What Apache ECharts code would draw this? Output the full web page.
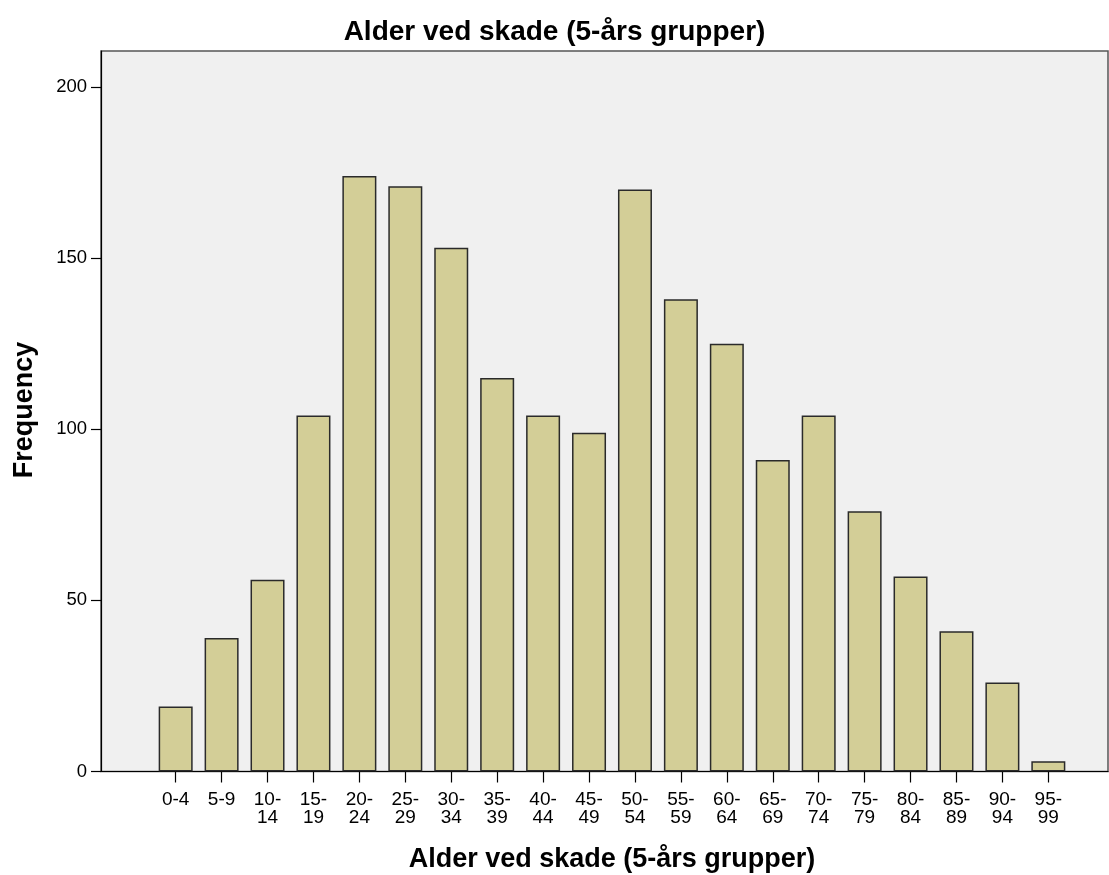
<!DOCTYPE html>
<html>
<head>
<meta charset="utf-8">
<script src="https://cdn.jsdelivr.net/npm/echarts@6/dist/echarts.min.js"></script>
<style>
html,body{margin:0;padding:0;background:#fff;}
#chart{width:1109px;height:875px;}
</style>
</head>
<body>
<div id="chart"></div>
<script>
const categories = ['0-4','5-9','10-14','15-19','20-24','25-29','30-34','35-39','40-44','45-49','50-54','55-59','60-64','65-69','70-74','75-79','80-84','85-89','90-94','95-99'];
const frequencies = [19,39,56,104,174,171,153,115,104,99,170,138,125,91,104,76,57,41,26,3];
const yTicks = [0,50,100,150,200];
const chartTitle = 'Alder ved skade (5-års grupper)';
const xTitle = 'Alder ved skade (5-års grupper)';
const yTitle = 'Frequency';

const YMAX = 210.5;
const font = 'Liberation Sans, Arial, sans-serif';
const chart = echarts.init(document.getElementById('chart'));
chart.setOption({
  backgroundColor: '#ffffff',
  animation: false,
  grid: [
    {left: 101, right: 1, top: 51, bottom: 103.5, show: true, backgroundColor: '#f0f0f0', borderColor: '#555', borderWidth: 1.5},
    {left: 152.7, right: 37.7, top: 51, bottom: 103.5}
  ],
  xAxis: [
    {type: 'value', gridIndex: 0, min: 0, max: 1, axisLine: {show: true, onZero: false, lineStyle: {color: '#000', width: 1.2}},
     axisTick: {show: false}, axisLabel: {show: false}, splitLine: {show: false}},
    {type: 'category', gridIndex: 1, data: categories,
     axisLine: {show: false}, splitLine: {show: false},
     axisTick: {show: true, alignWithLabel: true, length: 11, lineStyle: {color: '#000', width: 1.2}},
     axisLabel: {interval: 0, margin: 19, fontFamily: font, fontSize: 19, color: '#000', lineHeight: 18,
       formatter: v => { const p = v.split('-'); return p[0].length > 1 || p[1].length > 1 ? p[0] + '-\n' + p[1] : v; }}
    }
  ],
  yAxis: [
    {type: 'value', gridIndex: 0, min: 0, max: YMAX, interval: 50,
     axisLine: {show: true, lineStyle: {color: '#000', width: 1.2}},
     axisTick: {show: true, length: 10, customValues: yTicks, lineStyle: {color: '#000', width: 1.2}},
     axisLabel: {customValues: yTicks, margin: 14, fontFamily: font, fontSize: 18.5, color: '#000'},
     splitLine: {show: false}},
    {type: 'value', gridIndex: 1, min: 0, max: YMAX, show: false, splitLine: {show: false}}
  ],
  graphic: [
    {type: 'text', x: 554.5, y: 32, style: {text: chartTitle, fontFamily: font, fontSize: 28, fontWeight: 'bold', fill: '#000', align: 'center', verticalAlign: 'middle'}},
    {type: 'text', x: 612, y: 860, style: {text: xTitle, fontFamily: font, fontSize: 27, fontWeight: 'bold', fill: '#000', align: 'center', verticalAlign: 'middle'}},
    {type: 'text', x: 25, y: 410, rotation: Math.PI / 2, style: {text: yTitle, fontFamily: font, fontSize: 27, fontWeight: 'bold', fill: '#000', align: 'center', verticalAlign: 'middle'}}
  ],
  series: [{
    type: 'bar', xAxisIndex: 1, yAxisIndex: 1, data: frequencies, barWidth: 34,
    itemStyle: {color: '#d3ce97', borderColor: '#2a2a2a', borderWidth: 1.5}
  }]
});
</script>
</body>
</html>
